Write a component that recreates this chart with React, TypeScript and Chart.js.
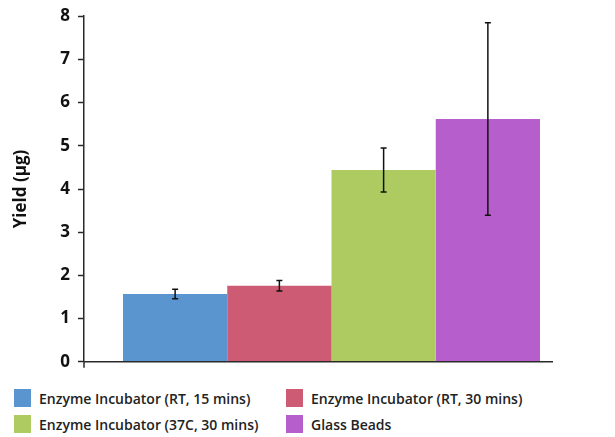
import React, { useEffect, useRef } from "react";
import { Chart, registerables } from "chart.js";

Chart.register(...registerables);

const categories = ["Yield"];
const seriesNames = [
  "Enzyme Incubator (RT, 15 mins)",
  "Enzyme Incubator (RT, 30 mins)",
  "Enzyme Incubator (37C, 30 mins)",
  "Glass Beads",
];
const seriesValues = [1.57, 1.76, 4.44, 5.62];
const seriesErrors = [0.11, 0.12, 0.51, 2.23];
const seriesColors = ["#5b95cf", "#cc5b73", "#aecb62", "#b65fcc"];
const yTicks = [0, 1, 2, 3, 4, 5, 6, 7, 8];

const FONT = "'Open Sans', 'DejaVu Sans', sans-serif";
const AXIS_COLOR = "#2a2a2a";

const errorBarPlugin = {
  id: "errorBars",
  afterDatasetsDraw(chart: any) {
    const ctx = chart.ctx;
    const yScale = chart.scales.y;
    const area = chart.chartArea;
    ctx.save();
    ctx.strokeStyle = "#111";
    ctx.lineWidth = 1.5;
    let rightMost = area.left;
    chart.data.datasets.forEach((ds: any, i: number) => {
      const meta = chart.getDatasetMeta(i);
      meta.data.forEach((bar: any, j: number) => {
        const v = ds.data[j];
        const e = seriesErrors[i];
        const x = bar.x;
        const yT = yScale.getPixelForValue(v + e);
        const yB = yScale.getPixelForValue(v - e);
        ctx.beginPath();
        ctx.moveTo(x, yT);
        ctx.lineTo(x, yB);
        ctx.moveTo(x - 3, yT);
        ctx.lineTo(x + 3, yT);
        ctx.moveTo(x - 3, yB);
        ctx.lineTo(x + 3, yB);
        ctx.stroke();
        rightMost = Math.max(rightMost, bar.x + bar.width / 2);
      });
    });
    // horizontal axis line
    ctx.strokeStyle = AXIS_COLOR;
    ctx.lineWidth = 1.5;
    ctx.beginPath();
    ctx.moveTo(area.left, area.bottom);
    ctx.lineTo(rightMost + 13, area.bottom);
    ctx.moveTo(area.left, area.bottom);
    ctx.lineTo(area.left, area.bottom + 6);
    ctx.stroke();
    ctx.restore();
  },
};

export default function App() {
  const ref = useRef<HTMLCanvasElement | null>(null);

  useEffect(() => {
    if (!ref.current) return;
    const chart = new Chart(ref.current, {
      type: "bar",
      data: {
        labels: categories,
        datasets: seriesNames.map((name, i) => ({
          label: name,
          data: [seriesValues[i]],
          backgroundColor: seriesColors[i],
          borderWidth: 0,
        })),
      },
      options: {
        animation: false,
        responsive: true,
        maintainAspectRatio: false,
        layout: { padding: { top: 0, right: 28, bottom: 10, left: 0 } },
        datasets: {
          bar: { barPercentage: 1, categoryPercentage: 0.8424 },
        },
        plugins: {
          legend: { display: false },
          tooltip: { enabled: false },
        },
        scales: {
          x: {
            ticks: { display: false },
            grid: { display: false },
            border: { display: false },
          },
          y: {
            min: 0,
            max: 8,
            afterFit(scale: any) {
              scale.width = 76;
            },
            afterBuildTicks(scale: any) {
              scale.ticks = yTicks.map((v) => ({ value: v }));
            },
            ticks: {
              stepSize: 1,
              padding: 8,
              color: "#111",
              font: { family: FONT, size: 17, weight: "bold" },
            },
            grid: {
              drawOnChartArea: false,
              tickLength: 6,
              tickColor: AXIS_COLOR,
              tickWidth: 1.5,
            },
            border: { display: true, color: AXIS_COLOR, width: 1.5 },
            title: {
              display: true,
              text: "Yield (µg)",
              color: "#111",
              padding: { top: 3, bottom: 0 },
              font: { family: FONT, size: 17, weight: "bold" },
            },
          },
        },
      },
      plugins: [errorBarPlugin],
    });
    return () => chart.destroy();
  }, []);

  return (
    <div style={{ width: 599, fontFamily: FONT }}>
      <div style={{ position: "relative", width: 599, height: 382, marginTop: -10 }}>
        <canvas ref={ref} />
      </div>
      <div
        style={{
          display: "grid",
          gridTemplateColumns: "272px 320px",
          rowGap: 8,
          paddingLeft: 6,
          marginTop: 9,
        }}
      >
        {seriesNames.map((name, i) => (
          <div key={name} style={{ display: "flex", alignItems: "center", height: 18 }}>
            <span
              style={{
                display: "inline-block",
                width: 17,
                height: 18,
                background: seriesColors[i],
                marginRight: 8,
                flex: "none",
              }}
            />
            <span style={{ fontSize: 14, fontWeight: 600, color: "#222", whiteSpace: "nowrap" }}>
              {name}
            </span>
          </div>
        ))}
      </div>
    </div>
  );
}
